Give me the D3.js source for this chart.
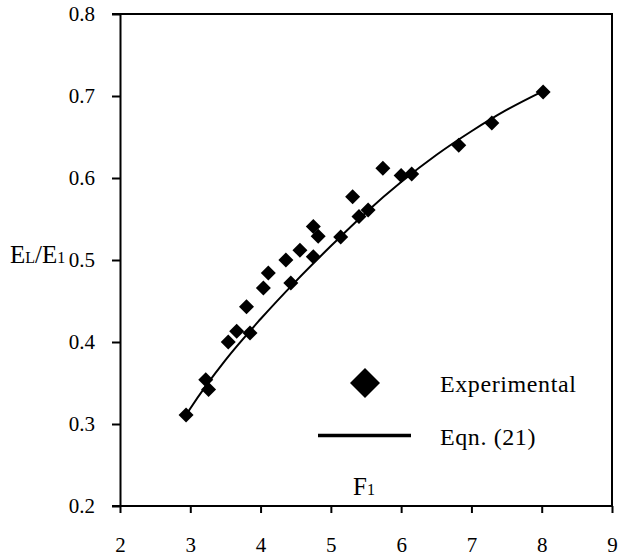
<!DOCTYPE html>
<html>
<head>
<meta charset="utf-8">
<script src="https://cdn.jsdelivr.net/npm/d3@7"></script>
<style>
  html, body { margin: 0; padding: 0; background: #fff; }
  svg { display: block; }
  text { font-family: "Liberation Serif", "Times New Roman", serif; fill: #000; }
</style>
</head>
<body>
<script>
// ---- data ----
const expX = [2.94, 3.22, 3.26, 3.54, 3.66, 3.80, 3.85, 4.04, 4.11, 4.36, 4.43, 4.56, 4.75, 4.75, 4.82, 5.14, 5.31, 5.40, 5.53, 5.74, 6.00, 6.15, 6.82, 7.29, 8.02];
const expY = [0.311, 0.354, 0.342, 0.400, 0.413, 0.443, 0.411, 0.466, 0.484, 0.500, 0.472, 0.512, 0.504, 0.541, 0.529, 0.528, 0.577, 0.553, 0.561, 0.612, 0.603, 0.605, 0.640, 0.667, 0.705];
const eqnX = [2.94, 3.0, 3.5, 4.0, 4.5, 5.0, 5.5, 6.0, 6.5, 7.0, 7.5, 8.02];
const eqnY = [0.311, 0.319, 0.378, 0.428, 0.474, 0.517, 0.558, 0.595, 0.628, 0.657, 0.683, 0.706];
const xTicks = [2, 3, 4, 5, 6, 7, 8, 9];
const yTicks = [0.2, 0.3, 0.4, 0.5, 0.6, 0.7, 0.8];
const legendLabels = ["Experimental", "Eqn. (21)"];

// ---- layout ----
const W = 619, H = 559;
const L = 120, T = 14, R = 612, B = 506;

const svg = d3.select("body").append("svg").attr("width", W).attr("height", H);

const x = d3.scaleLinear().domain([2, 9]).range([L, R]);
const y = d3.scaleLinear().domain([0.2, 0.8]).range([B, T]);

// frame (top + right)
svg.append("path")
  .attr("d", `M${L - 8},${T}H${R}V${B}`)
  .attr("fill", "none").attr("stroke", "#000").attr("stroke-width", 2);

// axes
const gx = svg.append("g").attr("transform", `translate(0,${B})`)
  .call(d3.axisBottom(x).tickValues(xTicks).tickFormat(d3.format("d")).tickSize(7).tickPadding(24).tickSizeOuter(0));
const gy = svg.append("g").attr("transform", `translate(${L},0)`)
  .call(d3.axisLeft(y).tickValues(yTicks).tickFormat(d3.format(".1f")).tickSize(8).tickPadding(17).tickSizeOuter(0));

[gx, gy].forEach(g => {
  g.select(".domain").attr("stroke", "#000").attr("stroke-width", 2);
  g.selectAll(".tick line").attr("stroke", "#000").attr("stroke-width", 2);
  g.selectAll(".tick text").attr("font-family", "Liberation Serif, serif").attr("font-size", 21).attr("fill", "#000");
});
gx.select(".domain").attr("d", `M${L - 8},0H${R}`);

// equation curve
const pts = eqnX.map((d, i) => [d, eqnY[i]]);
svg.append("path")
  .datum(pts)
  .attr("fill", "none").attr("stroke", "#000").attr("stroke-width", 2)
  .attr("d", d3.line().x(d => x(d[0])).y(d => y(d[1])).curve(d3.curveMonotoneX));

// experimental diamonds
const dia = (r) => `M0,${-r}L${r},0L0,${r}L${-r},0Z`;
svg.append("g").selectAll("path")
  .data(expX.map((d, i) => [d, expY[i]]))
  .join("path")
  .attr("transform", d => `translate(${x(d[0])},${y(d[1])})`)
  .attr("d", dia(7.5))
  .attr("fill", "#000");

// legend
svg.append("path").attr("transform", "translate(365,383)").attr("d", dia(15)).attr("fill", "#000");
svg.append("line").attr("x1", 318).attr("x2", 411).attr("y1", 435.5).attr("y2", 435.5)
  .attr("stroke", "#000").attr("stroke-width", 3.5);
svg.append("text").attr("x", 440).attr("y", 392).attr("font-size", 24).attr("letter-spacing", 0.6).text(legendLabels[0]);
svg.append("text").attr("x", 440).attr("y", 445).attr("font-size", 24).attr("letter-spacing", 0.6).text(legendLabels[1]);

// x label F1
const xl = svg.append("text").attr("x", 353).attr("y", 495).attr("font-size", 25);
xl.append("tspan").text("F");
xl.append("tspan").attr("font-size", 16).text("1");

// y label EL/E1
const yl = svg.append("text").attr("x", 10).attr("y", 263).attr("font-size", 25);
yl.append("tspan").text("E");
yl.append("tspan").attr("font-size", 16).text("L");
yl.append("tspan").text("/E");
yl.append("tspan").attr("font-size", 16).text("1");
</script>
</body>
</html>
